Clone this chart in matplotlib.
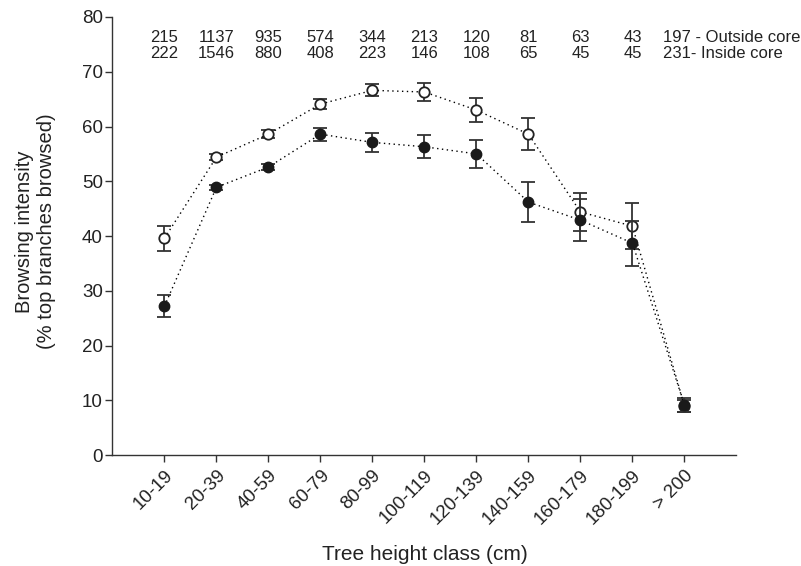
import matplotlib
matplotlib.use("Agg")
import matplotlib.pyplot as plt
import numpy as np

plt.rcParams['font.family'] = ['Liberation Sans', 'DejaVu Sans']

categories = ["10-19", "20-39", "40-59", "60-79", "80-99", "100-119",
              "120-139", "140-159", "160-179", "180-199", "> 200"]
outside_mean = [39.6, 54.4, 58.6, 64.1, 66.6, 66.3, 63.0, 58.6, 44.4, 41.8, 9.0]
outside_err = [2.3, 0.5, 0.7, 0.9, 1.1, 1.6, 2.2, 2.9, 3.5, 4.2, 1.1]
inside_mean = [27.2, 48.9, 52.6, 58.6, 57.1, 56.3, 55.0, 46.2, 42.9, 38.7, 9.1]
inside_err = [2.0, 0.5, 0.6, 1.2, 1.7, 2.1, 2.6, 3.6, 3.9, 4.1, 1.3]
n_outside = [215, 1137, 935, 574, 344, 213, 120, 81, 63, 43, 197]
n_inside = [222, 1546, 880, 408, 223, 146, 108, 65, 45, 45, 231]

x = np.arange(1, len(categories) + 1)

fig = plt.figure(figsize=(8.01, 5.66), dpi=100)
ax = fig.add_axes([0.1404, 0.196, 0.779, 0.774])

ecol = '#333333'
ax.errorbar(x, outside_mean, yerr=outside_err, fmt='o', ls=(0, (1, 2.5)), color='black',
            mfc='white', mec='#222222', mew=1.3, ms=7.5, ecolor=ecol,
            elinewidth=1.3, capsize=5, capthick=1.3, lw=1.0, zorder=3)
ax.errorbar(x, inside_mean, yerr=inside_err, fmt='o', ls=(0, (1, 2.5)), color='black',
            mfc='#1a1a1a', mec='#1a1a1a', ms=7.5, ecolor=ecol,
            elinewidth=1.3, capsize=5, capthick=1.3, lw=1.0, zorder=4)

fs_n = 12
for i in range(len(categories) - 1):
    ax.text(x[i], 76.3, str(n_outside[i]), ha='center', va='center', fontsize=fs_n, color='#222222')
    ax.text(x[i], 73.3, str(n_inside[i]), ha='center', va='center', fontsize=fs_n, color='#222222')
ax.text(x[-1] - 0.42, 76.3, f"{n_outside[-1]} - Outside core", ha='left', va='center', fontsize=fs_n, color='#222222')
ax.text(x[-1] - 0.42, 73.3, f"{n_inside[-1]}- Inside core", ha='left', va='center', fontsize=fs_n, color='#222222')

ax.set_xlim(0, 12)
ax.set_ylim(0, 80)
ax.set_yticks(np.arange(0, 81, 10))
ax.set_xticks(x)
ax.set_xticklabels(categories, rotation=45, ha='right', rotation_mode='anchor')
ax.tick_params(axis='both', labelsize=13.5, direction='out', length=5, width=1,
               color='#333333', labelcolor='#222222')
ax.tick_params(axis='y', pad=2)
for s in ['top', 'right']:
    ax.spines[s].set_visible(False)
for s in ['left', 'bottom']:
    ax.spines[s].set_color('#333333')
    ax.spines[s].set_linewidth(1)

ax.set_ylabel("Browsing intensity\n(% top branches browsed)", fontsize=14.5, color='#222222')
ax.yaxis.set_label_coords(-0.0897, 0.51)
ax.set_xlabel("Tree height class (cm)", fontsize=15, color='#222222')
ax.xaxis.set_label_coords(0.5, -0.205)

fig.savefig("out.png", dpi=100)
